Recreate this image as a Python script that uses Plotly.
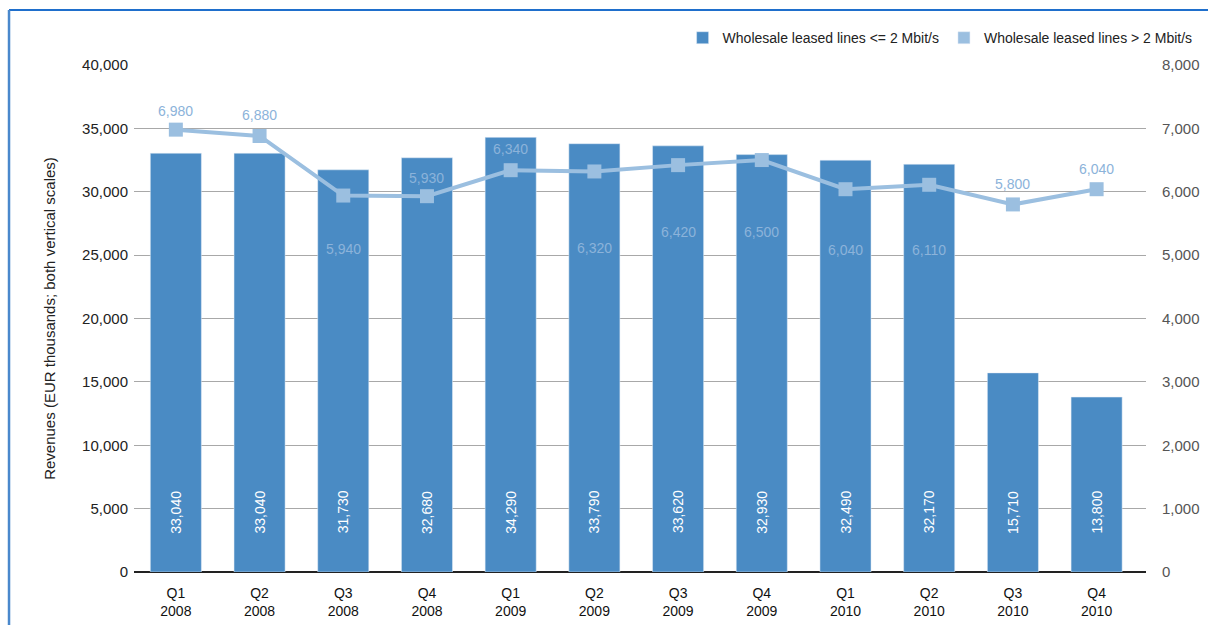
import plotly.graph_objects as go

quarters = ["Q1<br>2008", "Q2<br>2008", "Q3<br>2008", "Q4<br>2008",
            "Q1<br>2009", "Q2<br>2009", "Q3<br>2009", "Q4<br>2009",
            "Q1<br>2010", "Q2<br>2010", "Q3<br>2010", "Q4<br>2010"]
low_speed = [33040, 33040, 31730, 32680, 34290, 33790, 33620, 32930, 32490, 32170, 15710, 13800]
high_speed = [6980, 6880, 5940, 5930, 6340, 6320, 6420, 6500, 6040, 6110, 5800, 6040]
left_ticks = [0, 5000, 10000, 15000, 20000, 25000, 30000, 35000, 40000]
right_ticks = [0, 1000, 2000, 3000, 4000, 5000, 6000, 7000, 8000]
series_names = ["Wholesale leased lines <= 2 Mbit/s", "Wholesale leased lines > 2 Mbit/s"]

# label offsets (pixels) for line labels - style only
line_label_shift = [19, 21, -53, 18, 21, -77, -67, -72, -61, -65, 20, 20]

BAR = "#4A8BC4"
LINE = "#9BBFE0"
LABEL = "#8CB3DA"
SANS = "Liberation Sans, Arial, sans-serif"

fig = go.Figure()
fig.add_trace(go.Bar(x=quarters, y=low_speed, name=series_names[0], marker_color=BAR,
                     width=0.61, showlegend=True))
fig.add_trace(go.Bar(x=quarters, y=[None] * len(quarters), name=series_names[1],
                     marker_color=LINE, showlegend=True))
fig.add_trace(go.Scatter(x=quarters, y=high_speed, yaxis="y2", mode="lines+markers",
                         line=dict(color=LINE, width=4),
                         marker=dict(symbol="square", size=14, color=LINE),
                         showlegend=False, cliponaxis=False))

annotations = []
for q, v in zip(quarters, low_speed):
    annotations.append(dict(x=q, y=0, xref="x", yref="y", text=f"{v:,}", textangle=-90,
                            showarrow=False, yshift=60,
                            font=dict(family=SANS, size=14, color="white")))
for q, v, s in zip(quarters, high_speed, line_label_shift):
    annotations.append(dict(x=q, y=v, xref="x", yref="y2", text=f"{v:,}",
                            showarrow=False, yshift=s,
                            font=dict(family=SANS, size=14, color=LABEL)))

fig.update_layout(
    width=1208, height=625,
    margin=dict(l=134, r=62, t=65, b=53, autoexpand=False),
    paper_bgcolor="white", plot_bgcolor="white",
    barmode="overlay",
    font=dict(family=SANS, size=14, color="#222"),
    legend=dict(orientation="h", x=1.051, xanchor="right", y=1.053, yanchor="middle",
                font=dict(family=SANS, size=14, color="#222"), traceorder="normal"),
    xaxis=dict(range=[-0.5, 11.59], showgrid=False, showline=False, ticks="",
               tickfont=dict(family=SANS, size=14, color="#111"), ticklabelstandoff=11,
               automargin=False, fixedrange=True),
    yaxis=dict(range=[0, 40000], tickvals=left_ticks, tickformat=",", showgrid=True,
               gridcolor="#A8A8A8", gridwidth=1, zeroline=True, zerolinecolor="#222",
               zerolinewidth=1.5, ticks="", ticklabelstandoff=5, automargin=False,
               tickfont=dict(family=SANS, size=15, color="#222"),
               title=dict(text="Revenues (EUR thousands; both vertical scales)",
                          font=dict(family=SANS, size=15, color="#222"), standoff=22)),
    yaxis2=dict(range=[0, 8000], tickvals=right_ticks, tickformat=",", overlaying="y",
                side="right", showgrid=False, zeroline=False, ticks="",
                ticklabelstandoff=15, automargin=False,
                tickfont=dict(family=SANS, size=15, color="#555")),
    annotations=annotations,
    shapes=[
        dict(type="line", xref="paper", yref="paper", x0=-0.1235, x1=1.2,
             y0=1.1085, y1=1.1085, line=dict(color="#1F6FCC", width=2)),
        dict(type="line", xref="paper", yref="paper", x0=-0.1235, x1=-0.1235,
             y0=-0.2, y1=1.1085, line=dict(color="#4A88CC", width=2.5)),
    ],
)

fig.write_html("out.html")
